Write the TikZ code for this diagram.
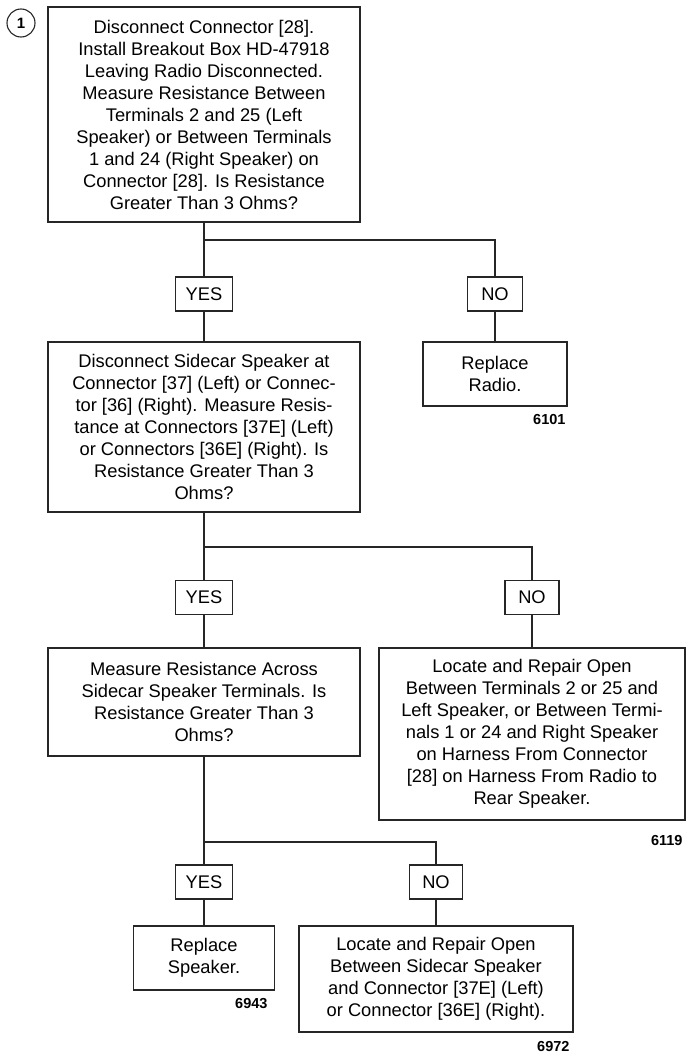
\documentclass[tikz,border=0pt]{standalone}
\usepackage{fontspec}
\setmainfont{Liberation Sans}
\begin{document}
\begin{tikzpicture}[x=1pt,y=-1pt,
  line width=1.1pt, draw=black!85,
  box/.style={draw=black!85, rectangle, align=center, inner sep=0pt, font=\fontsize{18.3}{22}\selectfont},
  ans/.style={draw=black!85, rectangle, minimum height=34pt, inner sep=0pt, font=\fontsize{18.3}{22}\selectfont},
  code/.style={anchor=east, inner sep=0pt, font=\bfseries\fontsize{14.5}{16}\selectfont},
  wire/.style={draw=black!85, line width=1.1pt}]
\useasboundingbox (0,0) rectangle (686,1055);

\node[draw=black!85, circle, minimum size=28pt, inner sep=0pt, font=\bfseries\fontsize{15}{16}\selectfont] (num) at (21,23) {1};

% Box 1
\node[box, minimum width=312pt, minimum height=215pt] (b1) at (204,114.5)
 {Disconnect Connector [28].\\Install Breakout Box HD-47918\\Leaving Radio Disconnected.\\Measure Resistance Between\\Terminals 2 and 25 (Left\\Speaker) or Between Terminals\\1 and 24 (Right Speaker) on\\Connector [28]. Is Resistance\\Greater Than 3 Ohms?};
\coordinate (j1) at (204,240);
\node[ans, minimum width=57pt] (yes1) at (204,294) {YES};
\node[ans, minimum width=55pt] (no1) at (495,294) {NO};

% Box 2
\node[box, minimum width=312pt, minimum height=170pt] (b2) at (204,427)
 {Disconnect Sidecar Speaker at\\Connector [37] (Left) or Connec-\\tor [36] (Right). Measure Resis-\\tance at Connectors [37E] (Left)\\or Connectors [36E] (Right). Is\\Resistance Greater Than 3\\Ohms?};
\node[box, minimum width=144pt, minimum height=64pt] (rr) at (495,374)
 {Replace\\Radio.};
\node[code] (c1) at (566,420) {6101};

\coordinate (j2) at (204,547);
\node[ans, minimum width=57pt] (yes2) at (204,597.5) {YES};
\node[ans, minimum width=54pt] (no2) at (532,597.5) {NO};

% Box 3
\node[box, minimum width=312pt, minimum height=108pt] (b3) at (204,702)
 {Measure Resistance Across\\Sidecar Speaker Terminals. Is\\Resistance Greater Than 3\\Ohms?};
\node[box, minimum width=306pt, minimum height=172pt] (rb) at (532,734)
 {Locate and Repair Open\\Between Terminals 2 or 25 and\\Left Speaker, or Between Termi-\\nals 1 or 24 and Right Speaker\\on Harness From Connector\\{}[28] on Harness From Radio to\\Rear Speaker.};
\node[code] (c2) at (683,840) {6119};

\coordinate (j3) at (204,842);
\node[ans, minimum width=57pt] (yes3) at (204,882) {YES};
\node[ans, minimum width=53pt] (no3) at (436,882) {NO};

% Bottom boxes
\node[box, minimum width=141pt, minimum height=64pt] (rs) at (204,958)
 {Replace\\Speaker.};
\node[code] (c3) at (268,1004) {6943};
\node[box, minimum width=274pt, minimum height=106pt] (lr) at (436,979)
 {Locate and Repair Open\\Between Sidecar Speaker\\and Connector [37E] (Left)\\or Connector [36E] (Right).};
\node[code] (c4) at (570,1046) {6972};

% Connectors
\draw[wire] (b1.south) -- (yes1.north);
\draw[wire] (yes1.south) -- (b2.north);
\draw[wire] (j1) -| (no1.north);
\draw[wire] (no1.south) -- (rr.north);

\draw[wire] (b2.south) -- (yes2.north);
\draw[wire] (yes2.south) -- (b3.north);
\draw[wire] (j2) -| (no2.north);
\draw[wire] (no2.south) -- (rb.north);

\draw[wire] (b3.south) -- (yes3.north);
\draw[wire] (yes3.south) -- (rs.north);
\draw[wire] (j3) -| (no3.north);
\draw[wire] (no3.south) -- (lr.north);
\end{tikzpicture}
\end{document}
